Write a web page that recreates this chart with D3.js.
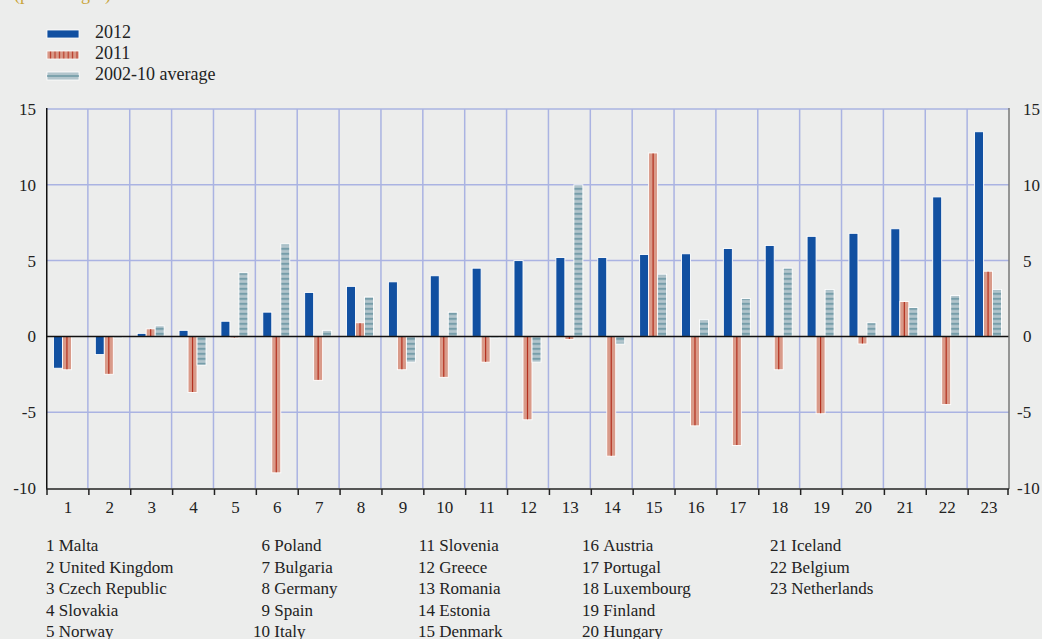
<!DOCTYPE html>
<html><head><meta charset="utf-8">
<script src="https://cdn.jsdelivr.net/npm/d3@7"></script>
<style>
html,body{margin:0;padding:0;background:#ecedec;}
svg{display:block;font-family:"Liberation Serif","Times New Roman",serif;}
</style></head>
<body><svg id="c" width="1042" height="639"></svg>
<script>
const categories = ["1","2","3","4","5","6","7","8","9","10","11","12","13","14","15","16","17","18","19","20","21","22","23"];
const countries = ["Malta","United Kingdom","Czech Republic","Slovakia","Norway","Poland","Bulgaria","Germany","Spain","Italy","Slovenia","Greece","Romania","Estonia","Denmark","Austria","Portugal","Luxembourg","Finland","Hungary","Iceland","Belgium","Netherlands"];
const v2012 = [-2.1,-1.2,0.2,0.4,1.0,1.6,2.9,3.3,3.6,4.0,4.5,5.0,5.2,5.2,5.4,5.45,5.8,6.0,6.6,6.8,7.1,9.2,13.5];
const v2011 = [-2.2,-2.5,0.5,-3.7,-0.1,-9.0,-2.9,0.9,-2.2,-2.7,-1.7,-5.5,-0.2,-7.9,12.1,-5.9,-7.2,-2.2,-5.1,-0.5,2.3,-4.5,4.3];
const vAvg = [0,-0.1,0.7,-1.9,4.2,6.1,0.4,2.6,-1.7,1.6,-0.1,-1.7,10.0,-0.5,4.1,1.1,2.5,4.5,3.1,0.9,1.9,2.7,3.1];
const seriesNames = ["2012","2011","2002-10 average"];
const yTicks = [15,10,5,0,-5,-10];

const svg = d3.select("#c");
const L = 46, R = 1009, T = 109, B = 488;
const x = d3.scaleBand().domain(categories).range([L, R]).paddingInner(0).paddingOuter(0);
const y = d3.scaleLinear().domain([-10, 15]).range([B, T]);
const groupW = 27;
const x1 = d3.scaleBand().domain(seriesNames).range([0, groupW]).padding(0);

const defs = svg.append("defs");
const pAvg = defs.append("pattern").attr("id","pAvg").attr("patternUnits","userSpaceOnUse")
  .attr("width",10).attr("height",5).attr("y", y(0));
pAvg.append("rect").attr("width",10).attr("height",5).attr("fill","#b2c5cc");
pAvg.append("rect").attr("y",1.8).attr("width",10).attr("height",1.4).attr("fill","#5a8b99");
const p11 = defs.append("pattern").attr("id","p11").attr("patternUnits","userSpaceOnUse")
  .attr("width",4.4).attr("height",10);
p11.append("rect").attr("width",4.4).attr("height",10).attr("fill","#d99a89");
p11.append("rect").attr("x",1.6).attr("width",1.2).attr("height",10).attr("fill","#b83a28");

// title remnant
svg.append("text").attr("x",14).attr("y",0).attr("fill","#c9a43a").attr("font-size",18).text("(percentages)");

// gridlines
const gridColor = "#aab3e2";
const g = svg.append("g");
g.selectAll("line.h").data(yTicks.filter(d => d !== 0 && d !== -10)).join("line")
  .attr("x1", L).attr("x2", R).attr("y1", d => y(d)).attr("y2", d => y(d))
  .attr("stroke", gridColor).attr("stroke-width", 1.5);
g.selectAll("line.v").data(categories.slice(1)).join("line")
  .attr("x1", d => x(d)).attr("x2", d => x(d)).attr("y1", T).attr("y2", B)
  .attr("stroke", gridColor).attr("stroke-width", 1.5);

// bars
const seriesData = [v2012, v2011, vAvg];
const fills = ["#1150a1", "#d99a89", "url(#pAvg)"];
seriesData.forEach((vals, si) => {
  const name = seriesNames[si];
  const bars = svg.append("g");
  bars.selectAll("rect").data(vals.map((v,i)=>({v, c: categories[i]}))).join("rect")
    .attr("x", d => x(d.c) + (x.bandwidth()-groupW)/2 + x1(name))
    .attr("width", x1.bandwidth())
    .attr("y", d => y(Math.max(0, d.v)))
    .attr("height", d => Math.abs(y(d.v) - y(0)))
    .attr("fill", fills[si])
    .attr("stroke", "#ffffff").attr("stroke-width", 0.9);
  if (si === 1) {
    bars.selectAll("line").data(vals.map((v,i)=>({v, c: categories[i]}))).join("line")
      .attr("x1", d => x(d.c) + (x.bandwidth()-groupW)/2 + x1(name) + x1.bandwidth()/2)
      .attr("x2", d => x(d.c) + (x.bandwidth()-groupW)/2 + x1(name) + x1.bandwidth()/2)
      .attr("y1", d => y(Math.max(0, d.v)) + 0.5)
      .attr("y2", d => y(Math.min(0, d.v)) - 0.5)
      .attr("stroke", "#b3301f").attr("stroke-width", 1.2);
  }
});

// zero line
svg.append("line").attr("x1", L).attr("x2", R).attr("y1", y(0)).attr("y2", y(0))
  .attr("stroke", "#111").attr("stroke-width", 1.5);

// left axis
svg.append("line").attr("x1", L+0.75).attr("x2", L+0.75).attr("y1", T-1).attr("y2", B+1)
  .attr("stroke", "#111").attr("stroke-width", 1.5);
// right axis
svg.append("line").attr("x1", R).attr("x2", R).attr("y1", T-1).attr("y2", B+1)
  .attr("stroke", "#777").attr("stroke-width", 1.5);

// bottom axis
svg.append("line").attr("x1", L).attr("x2", R).attr("y1", B+1).attr("y2", B+1)
  .attr("stroke", "#222").attr("stroke-width", 1.5);
svg.append("g").selectAll("line").data(categories).join("line")
  .attr("x1", d => x(d)+1).attr("x2", d => x(d)+1).attr("y1", B+1).attr("y2", B+7)
  .attr("stroke", "#222").attr("stroke-width", 1.5);
svg.append("line").attr("x1", R-1).attr("x2", R-1).attr("y1", B+1).attr("y2", B+7)
  .attr("stroke", "#222").attr("stroke-width", 1.5);

// category labels
svg.append("g").selectAll("text").data(categories).join("text")
  .attr("x", d => x(d) + x.bandwidth()/2 + 1).attr("y", 513)
  .attr("text-anchor","middle").attr("font-size",17).attr("fill","#222").text(d => d);

// y tick labels
svg.append("g").selectAll("text").data(yTicks).join("text")
  .attr("x", 36).attr("y", d => y(d) + 6).attr("text-anchor","end")
  .attr("font-size",17).attr("fill","#222").text(d => d);
svg.append("g").selectAll("text").data(yTicks).join("text")
  .attr("x", d => d < 0 ? 1017 : 1023).attr("y", d => y(d) + 6).attr("text-anchor","start")
  .attr("font-size",17).attr("fill","#222").text(d => d);

// legend
const lg = svg.append("g");
const legY = [30, 51, 72];
lg.append("rect").attr("x",47).attr("y",legY[0]).attr("width",32).attr("height",8).attr("fill","#1150a1").attr("stroke","#fff").attr("stroke-width",0.8);
lg.append("rect").attr("x",47).attr("y",legY[1]).attr("width",32).attr("height",8).attr("fill","url(#p11)").attr("stroke","#fff").attr("stroke-width",0.8);
lg.append("rect").attr("x",47).attr("y",legY[2]).attr("width",32).attr("height",8).attr("fill","#b2c5cc").attr("stroke","#fff").attr("stroke-width",0.8);
lg.append("line").attr("x1",47).attr("x2",79).attr("y1",legY[2]+4).attr("y2",legY[2]+4).attr("stroke","#5a8b99").attr("stroke-width",1.2);
lg.selectAll("text").data(seriesNames).join("text")
  .attr("x",95).attr("y",(d,i)=>legY[i]+8).attr("font-size",18).attr("fill","#222").text(d=>d);

// country list
const colNumEnd = [54.5, 270, 435, 599, 787];
const rowY = [551, 572.5, 594, 615.5, 637];
const cl = svg.append("g");
countries.forEach((name, i) => {
  const col = Math.floor(i/5), row = i % 5;
  cl.append("text").attr("font-size",17).attr("fill","#222").attr("y", rowY[row])
    .attr("x", colNumEnd[col]).attr("text-anchor","end").text(categories[i]);
  cl.append("text").attr("font-size",17).attr("fill","#222").attr("y", rowY[row])
    .attr("x", colNumEnd[col] + 4.25).text(name);
});
</script>
</body></html>
